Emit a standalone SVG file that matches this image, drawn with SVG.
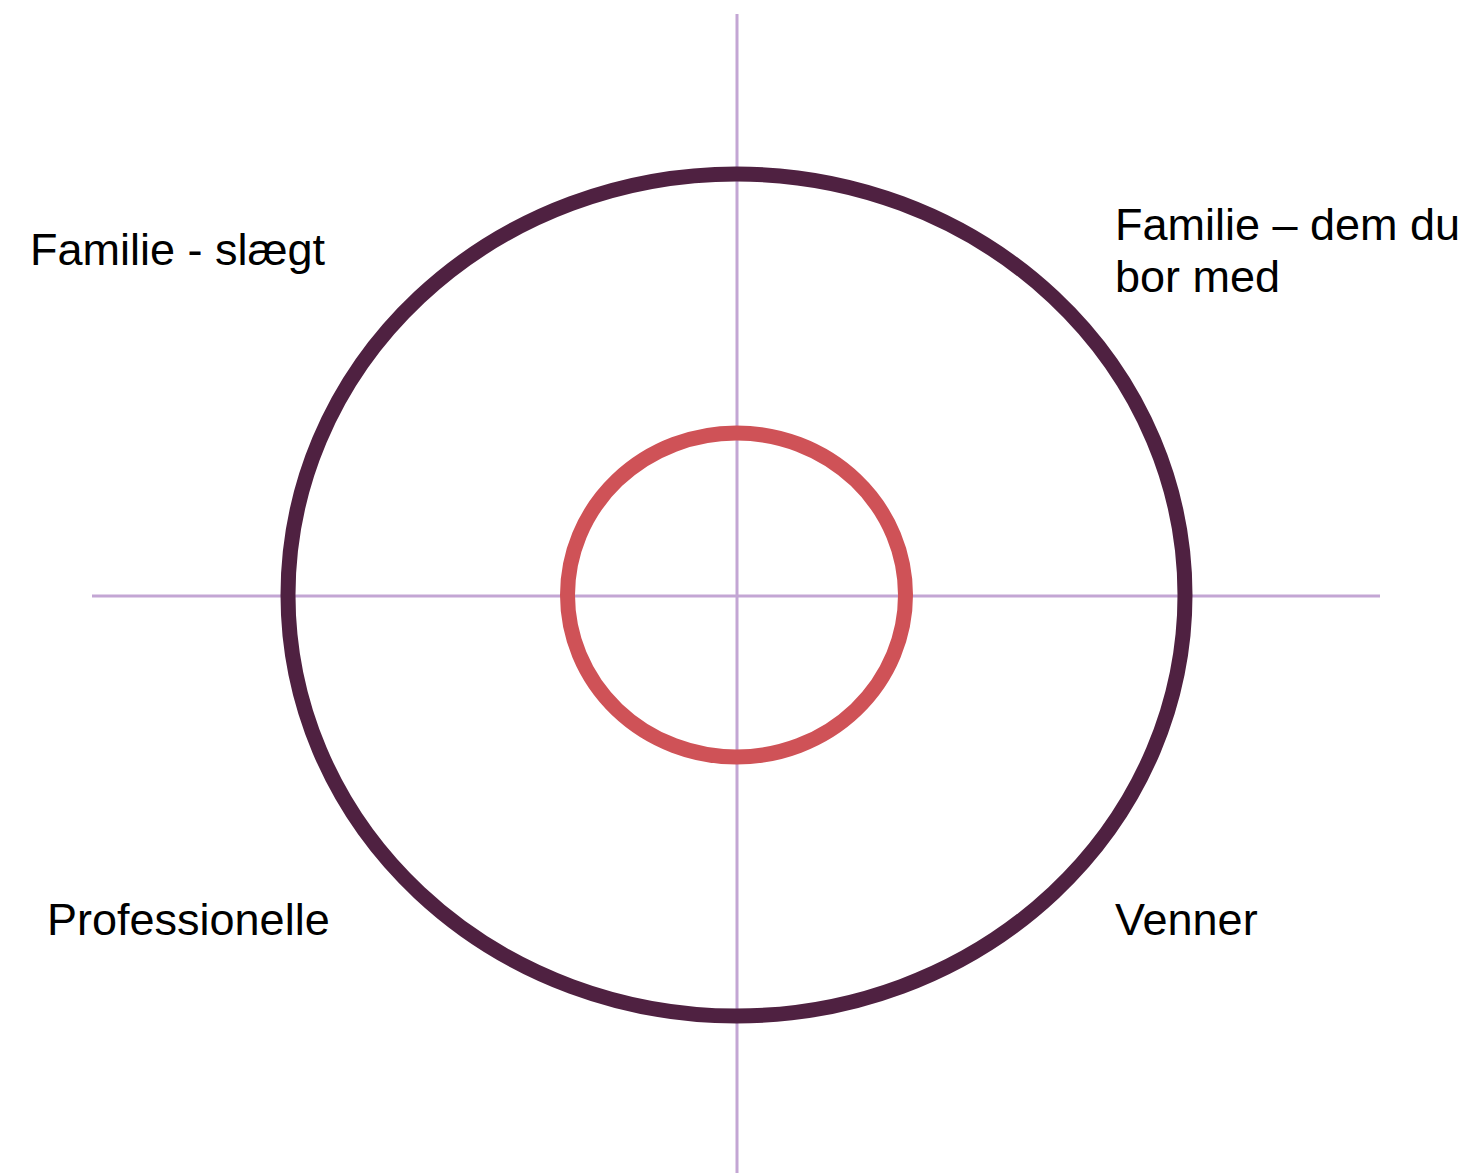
<svg xmlns="http://www.w3.org/2000/svg" width="1471" height="1173" viewBox="0 0 1471 1173">
<style>
.axis{stroke:#c3a6d4;stroke-width:3;fill:none}
.lbl{font-family:"Liberation Sans",Arial,sans-serif;font-size:45px;fill:#000}
</style>
<rect width="1471" height="1173" fill="#fff"/>
<g id="connectors">
<line class="axis" x1="737" y1="14" x2="737" y2="1173"/>
<line class="axis" x1="92" y1="596" x2="1380" y2="596"/>
</g>
<g id="outer-ring"><ellipse cx="736.5" cy="595" rx="448.5" ry="421" fill="none" stroke="#4f2141" stroke-width="15"/></g>
<g id="inner-ring"><ellipse cx="736.5" cy="595" rx="169" ry="162" fill="none" stroke="#cf5257" stroke-width="15"/></g>
<g id="label-slaegt"><text class="lbl" x="30" y="265">Familie - slægt</text></g>
<g id="label-bor"><text class="lbl" x="1115" y="240">Familie – dem du</text><text class="lbl" x="1115" y="292">bor med</text></g>
<g id="label-prof"><text class="lbl" x="47" y="935">Professionelle</text></g>
<g id="label-venner"><text class="lbl" x="1115" y="935">Venner</text></g>
</svg>
